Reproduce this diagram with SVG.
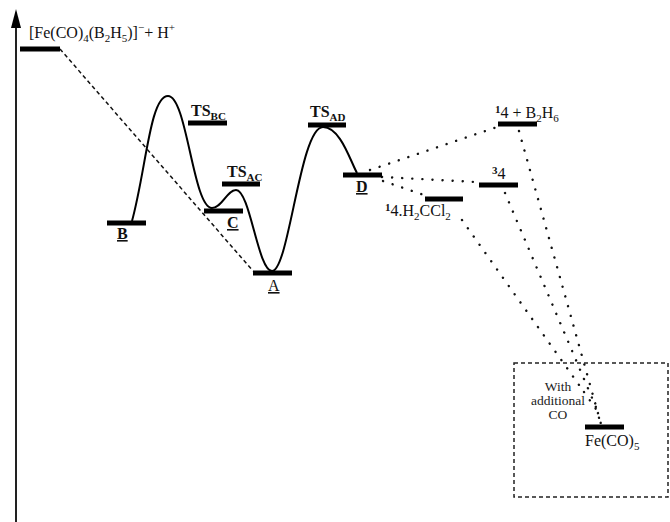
<svg xmlns="http://www.w3.org/2000/svg" width="670" height="522" viewBox="0 0 670 522" font-family="Liberation Serif, DejaVu Serif, serif">
<defs>
<style>
.bar{stroke:#000;stroke-width:5;fill:none}
.t{font-family:"Liberation Serif","DejaVu Serif",serif;font-size:16px;fill:#111}
.s{font-size:11px}
.b{font-weight:bold}
.w{font-family:"Liberation Serif","DejaVu Serif",serif;font-size:13.5px;fill:#222}
.dash{stroke:#111;stroke-width:1.5;stroke-dasharray:4,3;fill:none}
.dot{stroke:#111;stroke-width:2.4;stroke-dasharray:0.1,10;stroke-linecap:round;fill:none}
.curve{stroke:#000;stroke-width:2;fill:none}
</style>
</defs>
<rect width="670" height="522" fill="#fff"/>
<g id="axis">
<line x1="16" y1="24" x2="16" y2="522" stroke="#222" stroke-width="2"/>
<polygon points="16,9 11,28 21,28" fill="#000"/>
</g>
<g id="connectors">
<line class="dash" x1="60" y1="49" x2="253" y2="271"/>
<path class="curve" d="M132,221 C146,170 150,96 168,96 C187,96 193,208 212,208 C222,208 227,190 236,190 C250,190 258,271 272,271 C289,271 300,127 323,127 C340,127 350,160 357,173"/>
<line class="dot" x1="370" y1="170" x2="500" y2="126"/>
<line class="dot" x1="382" y1="177" x2="476" y2="182"/>
<line class="dot" x1="383" y1="181" x2="430" y2="197"/>
<line class="dot" x1="462" y1="220" x2="584" y2="392"/>
<line class="dot" x1="505" y1="193" x2="598" y2="412"/>
<line class="dot" x1="519" y1="131" x2="601" y2="424"/>
<path class="dot" d="M584,392 L598,412 L600,424"/>
</g>
<g id="start">
<line class="bar" x1="20" y1="49" x2="60" y2="49"/>
<text class="t" x="29" y="38">[Fe(CO)<tspan class="s" dy="4">4</tspan><tspan dy="-4">(B</tspan><tspan class="s" dy="4">2</tspan><tspan dy="-4">H</tspan><tspan class="s" dy="4">5</tspan><tspan dy="-4">)]</tspan><tspan class="s" dy="-7">−</tspan><tspan dy="7">+ H</tspan><tspan class="s" dy="-7">+</tspan></text>
</g>
<g id="B">
<line class="bar" x1="107" y1="223" x2="146" y2="223"/>
<text class="t b" x="117" y="239" text-decoration="underline">B</text>
</g>
<g id="TSBC">
<line class="bar" x1="188" y1="123" x2="227" y2="123"/>
<text class="t b" x="191" y="116">TS<tspan class="s" dy="4">BC</tspan></text>
</g>
<g id="TSAC">
<line class="bar" x1="222" y1="184" x2="260" y2="184"/>
<text class="t b" x="227" y="177">TS<tspan class="s" dy="4">AC</tspan></text>
</g>
<g id="C">
<line class="bar" x1="204" y1="211" x2="243" y2="211"/>
<text class="t b" x="227" y="228" text-decoration="underline">C</text>
</g>
<g id="A">
<line class="bar" x1="253" y1="273" x2="292" y2="273"/>
<text class="t" x="268" y="291" text-decoration="underline">A</text>
</g>
<g id="TSAD">
<line class="bar" x1="308" y1="125" x2="346" y2="125"/>
<text class="t b" x="310" y="117">TS<tspan class="s" dy="4">AD</tspan></text>
</g>
<g id="D">
<line class="bar" x1="343" y1="175" x2="382" y2="175"/>
<text class="t b" x="356" y="192" text-decoration="underline">D</text>
</g>
<g id="H2CCl2">
<line class="bar" x1="425" y1="199" x2="463" y2="199"/>
<text class="t" x="385" y="216"><tspan class="s b" dy="-5">1</tspan><tspan dy="5">4.H</tspan><tspan class="s" dy="4">2</tspan><tspan dy="-4">CCl</tspan><tspan class="s" dy="4">2</tspan></text>
</g>
<g id="T4">
<line class="bar" x1="479" y1="185" x2="518" y2="185"/>
<text class="t" x="492" y="179"><tspan class="s b" dy="-5">3</tspan><tspan dy="5">4</tspan></text>
</g>
<g id="S4B2H6">
<line class="bar" x1="498" y1="124" x2="537" y2="124"/>
<text class="t" x="495" y="118"><tspan class="s b" dy="-5">1</tspan><tspan dy="5">4 + B</tspan><tspan class="s" dy="4">2</tspan><tspan dy="-4">H</tspan><tspan class="s" dy="4">6</tspan></text>
</g>
<g id="box">
<rect x="514" y="363" width="154" height="134" fill="none" stroke="#222" stroke-width="1.5" stroke-dasharray="4,3"/>
<text class="w" x="558" y="391" text-anchor="middle">With</text>
<text class="w" x="558" y="405" text-anchor="middle">additional</text>
<text class="w" x="558" y="419" text-anchor="middle">CO</text>
</g>
<g id="FeCO5">
<line class="bar" x1="585" y1="427" x2="624" y2="427"/>
<text class="t" x="585" y="446">Fe(CO)<tspan class="s" dy="4">5</tspan></text>
</g>
</svg>
